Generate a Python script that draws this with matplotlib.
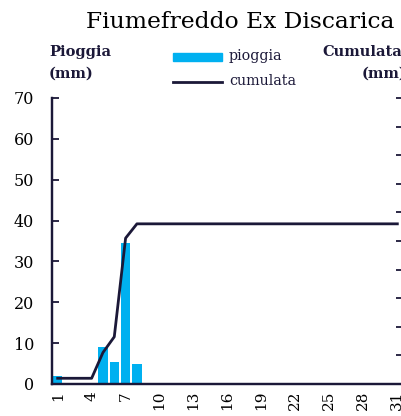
import matplotlib.pyplot as plt
import numpy as np

# Data -------------------------------------------------------------------
days = list(range(1, 32))
pioggia = [2, 0, 0, 0, 9, 5.5, 34.5, 5] + [0] * 23
cumulata = [2, 2, 2, 2, 11, 16.5, 51, 56] + [56] * 23
xticks = list(range(1, 32, 3))

navy = '#1b1838'
blue = '#00b0f0'
plt.rcParams['font.family'] = ['DejaVu Serif']

fig = plt.figure(figsize=(4.01, 4.16), dpi=100)
ax = fig.add_axes([52 / 401, 32 / 416, 351 / 401, 286 / 416])
ax2 = ax.twinx()

ax.bar(days, pioggia, width=0.82, color=blue, zorder=2)
ax2.plot(days, cumulata, color=navy, lw=2, zorder=3)

ax.set_xlim(0.5, 31.5)
ax.set_ylim(0, 70)
ax2.set_ylim(0, 100)
ax.set_xticks(xticks)
ax.set_xticklabels([str(d) for d in xticks], rotation=90, fontsize=11)
ax.set_yticks(range(0, 71, 10))
ax.tick_params(axis='y', direction='in', length=5, width=1.3, color=navy, labelsize=11.5, pad=13)
ax.tick_params(axis='x', length=0, pad=5)
ax2.set_yticks(range(0, 101, 10))
ax2.tick_params(axis='y', direction='in', length=5, width=1.3, color=navy, labelright=False)

for a in (ax, ax2):
    a.spines['top'].set_visible(False)
    a.spines['left'].set_color(navy)
    a.spines['bottom'].set_color(navy)
    a.spines['right'].set_color(navy)
    a.spines['left'].set_linewidth(1.6)
    a.spines['bottom'].set_linewidth(1.6)
ax.set_zorder(ax2.get_zorder() - 1)
ax2.patch.set_visible(False)

fig.text(0.6, 0.948, 'Fiumefreddo Ex Discarica', ha='center', va='center', fontsize=16.8, color='black')
fig.text(49 / 401, 1 - 52 / 416, 'Pioggia', ha='left', va='center', fontsize=10.5, fontweight='bold', color=navy)
fig.text(49 / 401, 1 - 74 / 416, '(mm)', ha='left', va='center', fontsize=10.5, fontweight='bold', color=navy)
fig.text(322 / 401, 1 - 52 / 416, 'Cumulata', ha='left', va='center', fontsize=10.5, fontweight='bold', color=navy)
fig.text(362 / 401, 1 - 74 / 416, '(mm)', ha='left', va='center', fontsize=10.5, fontweight='bold', color=navy)

# legend
fig.patches.append(plt.Rectangle((173 / 401, 1 - 61 / 416), 49 / 401, 8 / 416,
                                 transform=fig.transFigure, color=blue))
fig.lines.append(plt.Line2D([173 / 401, 222 / 401], [1 - 82 / 416] * 2,
                            transform=fig.transFigure, color=navy, lw=2))
fig.text(229 / 401, 1 - 56 / 416, 'pioggia', ha='left', va='center', fontsize=10.3, color=navy)
fig.text(229 / 401, 1 - 81 / 416, 'cumulata', ha='left', va='center', fontsize=10.3, color=navy)

fig.savefig('out.png', dpi=100)
